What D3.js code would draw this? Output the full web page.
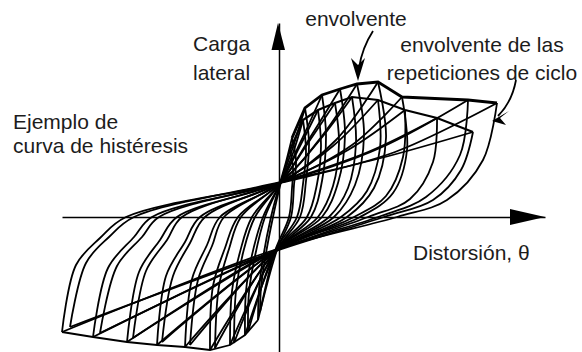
<!DOCTYPE html>
<html>
<head>
<meta charset="utf-8">
<script src="https://cdn.jsdelivr.net/npm/d3@7"></script>
<style>
  body { margin: 0; background: #fff; }
  text { font-family: "Liberation Sans", Arial, sans-serif; fill: #1c1c1c; }
</style>
</head>
<body>
<div id="container"></div>
<script>
// Pinched hysteresis loops.
// Units: x = distortion, y = lateral load (arbitrary, origin at the axes crossing).
// Each cycle is listed twice: even index = first cycle, odd index = repeated cycle.

// positive peaks
const peakPos = [
    [218, 114], [194, 85], [189, 117], [158, 99], [123, 120], [126, 107],
    [99, 135], [99, 117], [78, 133], [73, 120], [61, 128], [56, 114],
    [43, 122], [39, 107], [26, 109], [24, 97], [13, 79], [11, 67]
];
// unloading branch, two points on the steep part
const unloadA = [
    [204, 57], [182, 47], [181, 62], [154, 55], [128, 67], [124, 60],
    [107, 79], [101, 69], [85, 82], [77, 74], [66, 82], [60, 74],
    [47, 82], [42, 71], [30, 74], [27, 66], [17, 57], [14, 49]
];
const unloadB = [
    [168, 17], [154, 17], [147, 20], [131, 18], [114, 24], [107, 21],
    [95, 29], [88, 26], [76, 32], [69, 29], [59, 34], [54, 31],
    [43, 36], [38, 33], [27, 36], [24, 33], [15, 32], [13, 29]
];
// where the unloading branch crosses the distortion axis
const unloadCross = [118, 105, 99, 89, 81, 75, 68, 62, 55, 50, 43, 39, 32, 28, 21, 18, 12, 10];
// lower pinch point
const pinchLow = [
    [-2, -32], [-3, -34], [-2, -33], [-4, -34], [-2, -32], [-4, -34],
    [-2, -33], [-4, -34], [-2, -33], [-4, -34], [-2, -33], [-4, -34],
    [-2, -33], [-4, -34], [-2, -33], [-4, -34], [-2, -33], [-4, -34]
];
// negative peaks
const peakNeg = [
    [-217, -115], [-209, -110], [-186, -120], [-179, -116], [-152, -125], [-146, -121],
    [-122, -128], [-117, -125], [-94, -130], [-89, -128], [-69, -133], [-64, -131],
    [-49, -128], [-45, -126], [-34, -118], [-31, -115], [-21, -103], [-19, -95]
];
// reloading branch, two points on the steep part
const reloadA = [
    [-203, -48], [-193, -46], [-171, -51], [-162, -49], [-140, -55], [-133, -54],
    [-113, -59], [-106, -59], [-87, -62], [-81, -63], [-66, -69], [-60, -69],
    [-47, -74], [-43, -74], [-33, -74], [-30, -75], [-20, -73], [-18, -71]
];
const reloadB = [
    [-179, -21], [-170, -20], [-145, -20], [-137, -20], [-119, -23], [-112, -23],
    [-94, -25], [-89, -26], [-72, -28], [-67, -29], [-54, -31], [-50, -32],
    [-39, -35], [-36, -36], [-27, -38], [-24, -39], [-16, -41], [-14, -42]
];
const reloadCross = [-153, -145, -127, -120, -102, -97, -79, -74, -59, -55, -41, -38, -27, -24, -16, -14, -8, -6];
// upper pinch point
const pinchUp = [
    [1, 34], [2, 35], [1, 34], [2, 35], [1, 34], [2, 35],
    [1, 34], [2, 35], [1, 34], [2, 35], [1, 34], [2, 35],
    [1, 34], [2, 35], [1, 34], [2, 35], [1, 34], [2, 35]
];
// stiffening part of the reloading branch, before the peak
const reloadMid = [
    [116, 65], [106, 60], [101, 69], [89, 65], [73, 72], [69, 67],
    [57, 77], [54, 71], [43, 81], [40, 76], [32, 81], [29, 74],
    [22, 76], [20, 69], [13, 67], [13, 61], [7, 55], [6, 49]
];

const labels = {
    yTitle: ["Carga", "lateral"],
    xTitle: "Distorsión, θ",
    envelope: "envolvente",
    repEnvelope: ["envolvente de las", "repeticiones de ciclo"],
    example: ["Ejemplo de", "curva de histéresis"]
};

const width = 582;
const height = 352;

const x = d3.scaleLinear().domain([-217, 266]).range([62, 545]);
const y = d3.scaleLinear().domain([-135, 194]).range([352, 23]);

const svg = d3.select("#container")
    .append("svg")
    .attr("width", width)
    .attr("height", height);

// axes, no ticks
svg.append("g")
    .attr("transform", "translate(0," + y(0) + ")")
    .call(d3.axisBottom(x).tickValues([]).tickSizeOuter(0))
    .select(".domain")
    .attr("stroke", "#000")
    .attr("stroke-width", 1.5);

svg.append("g")
    .attr("transform", "translate(" + x(0) + ",0)")
    .call(d3.axisLeft(y).tickValues([]).tickSizeOuter(0))
    .select(".domain")
    .attr("stroke", "#000")
    .attr("stroke-width", 1.5);

// arrow heads on the axes
svg.append("path")
    .attr("d", `M${x(266)},${y(0)} L${x(231)},${y(0) - 8} L${x(231)},${y(0) + 8} Z`)
    .attr("fill", "#000");
svg.append("path")
    .attr("d", `M${x(0) - 1},${y(194)} L${x(0) - 7.5},${y(167)} L${x(0) + 6},${y(167)} Z`)
    .attr("fill", "#000");

const curve = d3.line()
    .x(d => x(d[0]))
    .y(d => y(d[1]))
    .curve(d3.curveCatmullRom.alpha(0.5));

const straight = d3.line()
    .x(d => x(d[0]))
    .y(d => y(d[1]));

const loops = svg.append("g")
    .attr("fill", "none")
    .attr("stroke", "#000")
    .attr("stroke-width", 1.8)
    .attr("stroke-linejoin", "miter");

peakPos.forEach((p, i) => {
    // unloading: peak -> lower pinch -> negative peak
    const down = [p, unloadA[i], unloadB[i], [unloadCross[i], 0], pinchLow[i], peakNeg[i]];
    // reloading: negative peak -> upper pinch -> peak
    const up = [peakNeg[i], reloadA[i], reloadB[i], [reloadCross[i], 0], pinchUp[i], reloadMid[i], p];
    loops.append("path").attr("d", curve(down));
    loops.append("path").attr("d", curve(up));
});

// envelopes: first cycles and repeated cycles
const firstPeaks = peakPos.filter((d, i) => i % 2 === 0).reverse();
const repPeaks = peakPos.filter((d, i) => i % 2 === 1).reverse();
const firstNeg = peakNeg.filter((d, i) => i % 2 === 0).reverse();

svg.append("path")
    .attr("d", straight(firstPeaks))
    .attr("fill", "none").attr("stroke", "#000").attr("stroke-width", 2.8);
svg.append("path")
    .attr("d", straight(repPeaks))
    .attr("fill", "none").attr("stroke", "#000").attr("stroke-width", 2.2);
svg.append("path")
    .attr("d", straight(firstNeg))
    .attr("fill", "none").attr("stroke", "#000").attr("stroke-width", 1.8);

// labels
const fs = 21;
const txt = (s, tx, ty, anchor) => svg.append("text")
    .attr("x", tx).attr("y", ty)
    .attr("font-size", fs)
    .attr("text-anchor", anchor || "start")
    .text(s);

txt(labels.yTitle[0], 193, 51);
txt(labels.yTitle[1], 193, 80);
txt(labels.envelope, 356, 26, "middle");
txt(labels.repEnvelope[0], 482, 52, "middle");
txt(labels.repEnvelope[1], 482, 80, "middle");
txt(labels.example[0], 13, 129);
txt(labels.example[1], 13, 153);
txt(labels.xTitle, 413, 260);

// pointer arrows
const pointers = svg.append("g").attr("stroke", "#000").attr("fill", "none").attr("stroke-width", 1.8);
pointers.append("path").attr("d", "M373,31 Q362,48 359,68");
svg.append("path")
    .attr("d", "M358,81 L351,58 L358,65 L365,58 Z")
    .attr("fill", "#000");
pointers.append("path").attr("d", "M516,80 Q512,102 498,116");
svg.append("path")
    .attr("d", "M492,121 L509,111 L500,118 L506,125 Z")
    .attr("fill", "#000");
</script>
</body>
</html>
